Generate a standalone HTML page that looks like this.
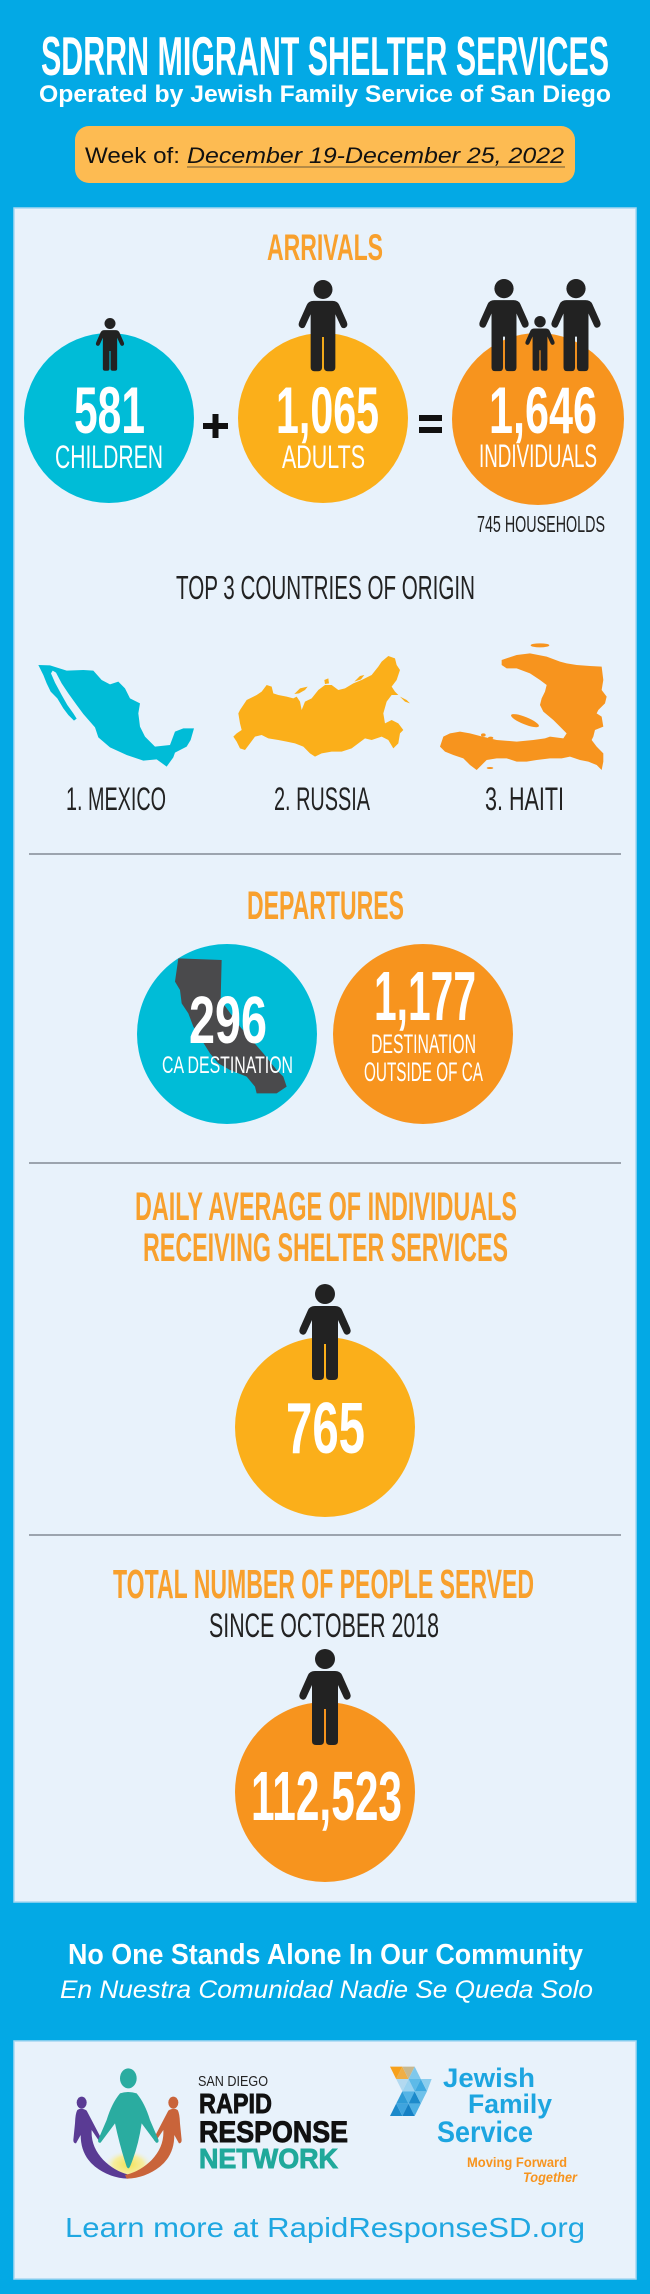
<!DOCTYPE html>
<html>
<head>
<meta charset="utf-8">
<style>
  html,body{margin:0;padding:0;background:#03A9E5;}
  svg{display:block;}
  text{font-family:"Liberation Sans", sans-serif;}
</style>
</head>
<body>
<svg xmlns="http://www.w3.org/2000/svg" width="650" height="2294" viewBox="0 0 650 2294">
  <defs>
    <g id="person">
      <circle cx="0" cy="10" r="10"/>
      <path d="M -10,22 L 10,22 Q 15,22 17,26 L 25,44 Q 27,49 23,50.5 Q 20,51.5 18.5,48 L 13,36 L 13,92 Q 13,96 9,96 L 5,96 Q 1,96 1,92 L 1,60 L -1,60 L -1,92 Q -1,96 -5,96 L -9,96 Q -13,96 -13,92 L -13,36 L -18.5,48 Q -20,51.5 -23,50.5 Q -27,49 -25,44 L -17,26 Q -15,22 -10,22 Z"/>
    </g>
    <radialGradient id="glow" cx="0.5" cy="0.6" r="0.5">
      <stop offset="0" stop-color="#F3E35A"/>
      <stop offset="0.6" stop-color="#F6EDA0"/>
      <stop offset="1" stop-color="#E8F2FB" stop-opacity="0"/>
    </radialGradient>
  </defs>

  <!-- background -->
  <rect x="0" y="0" width="650" height="2294" fill="#03A9E5"/>

  <!-- header -->
  <text x="41" y="75" font-size="55" font-weight="bold" fill="#ffffff" textLength="568" lengthAdjust="spacingAndGlyphs">SDRRN MIGRANT SHELTER SERVICES</text>
  <text x="39" y="102" font-size="24" font-weight="bold" fill="#ffffff" textLength="572" lengthAdjust="spacingAndGlyphs">Operated by Jewish Family Service of San Diego</text>

  <rect x="75" y="126" width="500" height="57" rx="14" fill="#FDBB52"/>
  <text x="85" y="163" font-size="22" fill="#111" textLength="95" lengthAdjust="spacingAndGlyphs">Week of:</text>
  <text x="187" y="163" font-size="22" font-style="italic" fill="#111" textLength="377" lengthAdjust="spacingAndGlyphs">December 19-December 25, 2022</text>
  <line x1="187" y1="167" x2="565" y2="167" stroke="#6b5a3a" stroke-width="1"/>

  <!-- main panel -->
  <rect x="14" y="208" width="622" height="1694" fill="#E8F2FB" stroke="#A8D8F2" stroke-width="1.5"/>

  <!-- ARRIVALS -->
  <text x="267" y="260" font-size="37" font-weight="bold" fill="#F8A02D" textLength="116" lengthAdjust="spacingAndGlyphs">ARRIVALS</text>

  <circle cx="109" cy="418" r="85" fill="#00BCD7"/>
  <circle cx="323" cy="418" r="85" fill="#FBAF1A"/>
  <circle cx="538" cy="419" r="86" fill="#F7941E"/>

  <g fill="#222222">
    <use href="#person" transform="translate(110,318) scale(0.55)"/>
    <use href="#person" transform="translate(323,280) scale(0.95)"/>
    <use href="#person" transform="translate(504,279) scale(0.96)"/>
    <use href="#person" transform="translate(576,279) scale(0.96)"/>
    <use href="#person" transform="translate(540,316) scale(0.57)"/>
  </g>

  <text x="74" y="433" font-size="66" font-weight="bold" fill="#fff" textLength="71" lengthAdjust="spacingAndGlyphs">581</text>
  <text x="276" y="433" font-size="66" font-weight="bold" fill="#fff" textLength="103" lengthAdjust="spacingAndGlyphs">1,065</text>
  <text x="489" y="433" font-size="66" font-weight="bold" fill="#fff" textLength="108" lengthAdjust="spacingAndGlyphs">1,646</text>
  <text x="55" y="468" font-size="32" fill="#fff" textLength="108" lengthAdjust="spacingAndGlyphs">CHILDREN</text>
  <text x="282" y="468" font-size="32" fill="#fff" textLength="83" lengthAdjust="spacingAndGlyphs">ADULTS</text>
  <text x="479" y="467" font-size="32" fill="#fff" textLength="118" lengthAdjust="spacingAndGlyphs">INDIVIDUALS</text>

  <!-- plus / equals -->
  <rect x="203" y="423" width="25" height="6" fill="#111"/>
  <rect x="212.5" y="414" width="6" height="24" fill="#111"/>
  <rect x="419" y="415" width="23" height="6" fill="#111"/>
  <rect x="419" y="427" width="23" height="6" fill="#111"/>

  <text x="477" y="532" font-size="23" fill="#222" textLength="128" lengthAdjust="spacingAndGlyphs">745 HOUSEHOLDS</text>

  <text x="176" y="599" font-size="33" fill="#222" textLength="299" lengthAdjust="spacingAndGlyphs">TOP 3 COUNTRIES OF ORIGIN</text>

  <!-- Mexico -->
  <g transform="translate(30,630) scale(0.3333)" fill="#00BCD7">
    <path d="M 25,105 L 60,106 L 110,122 L 160,120 L 190,122 L 215,150 L 240,163 L 265,155 L 285,175 L 300,205 L 330,220 L 325,250 L 330,290 L 345,320 L 375,350 L 420,345 L 435,305 L 460,295 L 492,295 L 482,330 L 470,350 L 435,368 L 430,382 L 410,410 L 380,388 L 340,392 L 290,375 L 240,352 L 205,322 L 195,292 L 160,252 L 140,225 L 115,190 L 95,160 L 78,128 L 68,122 L 63,130 L 75,158 L 95,195 L 112,225 L 130,250 L 140,266 L 132,272 L 115,255 L 100,235 L 82,205 L 62,185 L 50,160 L 40,135 Z"/>
  </g>

  <!-- Russia -->
  <g transform="translate(225,630) scale(0.3333)" fill="#FBAF1A">
    <path d="M 40,250 L 45,240 L 65,210 L 95,195 L 110,185 L 125,165 L 140,170 L 145,190 L 160,195 L 185,200 L 205,205 L 215,200 L 225,215 L 230,240 L 240,215 L 260,205 L 280,180 L 300,165 L 320,165 L 340,180 L 360,175 L 385,160 L 410,150 L 440,135 L 460,110 L 470,95 L 490,78 L 510,85 L 515,105 L 525,120 L 515,150 L 500,170 L 510,185 L 525,200 L 545,210 L 555,220 L 540,215 L 520,195 L 500,195 L 485,215 L 475,250 L 480,280 L 500,270 L 520,280 L 535,300 L 525,310 L 520,340 L 505,355 L 490,330 L 470,320 L 440,330 L 420,325 L 400,340 L 380,355 L 350,365 L 320,365 L 290,370 L 270,380 L 255,370 L 235,350 L 210,340 L 185,335 L 160,330 L 130,325 L 110,315 L 90,320 L 75,340 L 60,360 L 45,355 L 35,335 L 25,320 L 35,310 L 50,300 L 45,280 Z"/>
    <path d="M 208,192 L 225,175 L 248,170 L 240,180 L 222,190 Z"/>
    <path d="M 298,150 L 310,145 L 312,160 L 300,162 Z"/>
    <path d="M 388,155 L 405,138 L 418,135 L 408,148 Z"/>
  </g>

  <!-- Haiti / Hispaniola -->
  <g transform="translate(430,630) scale(0.3333)" fill="#F7941E">
    <path d="M 215,90 L 260,75 L 300,70 L 350,80 L 390,95 L 410,100 L 440,105 L 480,108 L 515,110 L 520,150 L 515,180 L 530,200 L 525,220 L 505,240 L 500,250 L 515,260 L 520,290 L 495,300 L 490,320 L 485,330 L 500,350 L 520,370 L 520,395 L 515,420 L 500,405 L 475,395 L 450,390 L 420,380 L 395,385 L 360,385 L 320,390 L 290,395 L 260,395 L 230,385 L 200,385 L 170,390 L 155,405 L 140,420 L 120,405 L 100,385 L 70,375 L 45,365 L 30,350 L 40,320 L 60,310 L 90,305 L 120,310 L 150,318 L 200,330 L 260,335 L 310,330 L 345,325 L 360,320 L 400,325 L 410,310 L 390,290 L 370,270 L 340,245 L 330,225 L 335,205 L 345,185 L 350,165 L 330,150 L 300,130 L 260,115 L 230,115 L 215,105 Z"/>
    <ellipse cx="285" cy="272" rx="45" ry="11" transform="rotate(22 285 272)"/>
    <ellipse cx="330" cy="46" rx="28" ry="6"/>
    <ellipse cx="160" cy="315" rx="7" ry="5"/>
    <ellipse cx="182" cy="324" rx="8" ry="4"/>
    <ellipse cx="180" cy="414" rx="10" ry="3"/>
  </g>

  <text x="66" y="810" font-size="32" fill="#222" textLength="100" lengthAdjust="spacingAndGlyphs">1. MEXICO</text>
  <text x="274" y="810" font-size="32" fill="#222" textLength="96" lengthAdjust="spacingAndGlyphs">2. RUSSIA</text>
  <text x="485" y="810" font-size="32" fill="#222" textLength="79" lengthAdjust="spacingAndGlyphs">3. HAITI</text>

  <line x1="29" y1="854" x2="621" y2="854" stroke="#6E7680" stroke-width="1.2"/>

  <!-- DEPARTURES -->
  <text x="247" y="919" font-size="40" font-weight="bold" fill="#F8A02D" textLength="157" lengthAdjust="spacingAndGlyphs">DEPARTURES</text>

  <circle cx="227" cy="1034" r="90" fill="#00BCD7"/>
  <circle cx="423" cy="1034" r="90" fill="#F7941E"/>

  <g transform="translate(130,930) scale(0.3333)" fill="#4A4A4C">
    <path d="M 145,85 L 275,90 L 272,210 L 330,290 L 400,370 L 440,420 L 460,440 L 470,470 L 455,480 L 440,490 L 380,490 L 375,470 L 350,440 L 300,420 L 265,400 L 240,370 L 215,330 L 190,290 L 175,250 L 155,220 L 150,180 L 135,155 L 140,120 Z"/>
  </g>

  <text x="189" y="1043" font-size="67" font-weight="bold" fill="#fff" textLength="78" lengthAdjust="spacingAndGlyphs">296</text>
  <text x="162" y="1073" font-size="24" fill="#fff" textLength="131" lengthAdjust="spacingAndGlyphs">CA DESTINATION</text>
  <text x="374" y="1020" font-size="70" font-weight="bold" fill="#fff" textLength="102" lengthAdjust="spacingAndGlyphs">1,177</text>
  <text x="371" y="1053" font-size="27" fill="#fff" textLength="105" lengthAdjust="spacingAndGlyphs">DESTINATION</text>
  <text x="364" y="1081" font-size="27" fill="#fff" textLength="119" lengthAdjust="spacingAndGlyphs">OUTSIDE OF CA</text>

  <line x1="29" y1="1163" x2="621" y2="1163" stroke="#6E7680" stroke-width="1.2"/>

  <!-- DAILY AVERAGE -->
  <text x="135" y="1220" font-size="40" font-weight="bold" fill="#F8A02D" textLength="382" lengthAdjust="spacingAndGlyphs">DAILY AVERAGE OF INDIVIDUALS</text>
  <text x="143" y="1261" font-size="40" font-weight="bold" fill="#F8A02D" textLength="365" lengthAdjust="spacingAndGlyphs">RECEIVING SHELTER SERVICES</text>

  <circle cx="325" cy="1427" r="90" fill="#FBAF1A"/>
  <use href="#person" fill="#222222" transform="translate(325,1284)"/>
  <text x="286" y="1453" font-size="72" font-weight="bold" fill="#fff" textLength="79" lengthAdjust="spacingAndGlyphs">765</text>

  <line x1="29" y1="1535" x2="621" y2="1535" stroke="#6E7680" stroke-width="1.2"/>

  <!-- TOTAL -->
  <text x="113" y="1598" font-size="41" font-weight="bold" fill="#F8A02D" textLength="421" lengthAdjust="spacingAndGlyphs">TOTAL NUMBER OF PEOPLE SERVED</text>
  <text x="209" y="1637" font-size="34" fill="#222" textLength="230" lengthAdjust="spacingAndGlyphs">SINCE OCTOBER 2018</text>

  <circle cx="325" cy="1792" r="90" fill="#F7941E"/>
  <use href="#person" fill="#222222" transform="translate(325,1649)"/>
  <text x="251" y="1820" font-size="70" font-weight="bold" fill="#fff" textLength="151" lengthAdjust="spacingAndGlyphs">112,523</text>

  <!-- tagline -->
  <text x="68" y="1964" font-size="29" font-weight="bold" fill="#fff" textLength="515" lengthAdjust="spacingAndGlyphs">No One Stands Alone In Our Community</text>
  <text x="60" y="1998" font-size="25" font-style="italic" fill="#fff" textLength="533" lengthAdjust="spacingAndGlyphs">En Nuestra Comunidad Nadie Se Queda Solo</text>

  <!-- lower panel -->
  <rect x="14" y="2041" width="622" height="238" fill="#E8F2FB" stroke="#A8D8F2" stroke-width="1.5"/>

  <!-- RRN logo -->
  <g transform="translate(60,2060) scale(0.3333)">
    <ellipse cx="205" cy="305" rx="75" ry="45" fill="url(#glow)"/>
    <path fill="#5A3B94" d="M 52,150 Q 65,142 80,152 L 122,232 Q 126,242 118,244 L 95,210 Q 92,260 130,300 Q 165,335 210,345 L 205,356 Q 150,355 105,320 Q 62,285 62,225 L 48,250 Q 40,250 40,240 L 45,190 Q 46,160 52,150 Z"/>
    <ellipse cx="65" cy="128" rx="15" ry="18" fill="#5A3B94"/>
    <g transform="translate(405,0) scale(-1,1)">
      <path fill="#C9643A" d="M 52,150 Q 65,142 80,152 L 122,232 Q 126,242 118,244 L 95,210 Q 92,260 130,300 Q 165,335 210,345 L 205,356 Q 150,355 105,320 Q 62,285 62,225 L 48,250 Q 40,250 40,240 L 45,190 Q 46,160 52,150 Z"/>
      <ellipse cx="65" cy="128" rx="15" ry="18" fill="#C9643A"/>
    </g>
    <ellipse cx="205" cy="55" rx="25" ry="30" fill="#2AACA0"/>
    <path fill="#2AACA0" d="M 180,100 Q 205,92 230,100 Q 255,130 270,180 L 295,238 Q 298,250 288,248 L 245,190 Q 235,260 210,320 Q 205,330 200,320 Q 180,260 165,190 L 122,248 Q 112,250 115,238 L 140,180 Q 155,130 180,100 Z"/>
  </g>
  <text x="198" y="2086" font-size="15" fill="#222" textLength="70" lengthAdjust="spacingAndGlyphs">SAN DIEGO</text>
  <text x="199" y="2113" font-size="28" font-weight="bold" fill="#111" stroke="#111" stroke-width="0.9" textLength="73" lengthAdjust="spacingAndGlyphs">RAPID</text>
  <text x="199" y="2142" font-size="30" font-weight="bold" fill="#111" stroke="#111" stroke-width="0.9" textLength="149" lengthAdjust="spacingAndGlyphs">RESPONSE</text>
  <text x="199" y="2168" font-size="28" font-weight="bold" fill="#20A99B" stroke="#20A99B" stroke-width="0.9" textLength="139" lengthAdjust="spacingAndGlyphs">NETWORK</text>

  <!-- JFS logo mark -->
  <g transform="translate(380,2060) scale(0.3333)">
    <polygon points="30,20 67,20 48.5,57" fill="#F7A11C"/>
    <polygon points="48.5,57 67,20 85.5,57" fill="#EFAE45"/>
    <polygon points="67,20 104,20 85.5,57" fill="#C8B88E"/>
    <polygon points="85.5,57 104,20 122.5,57" fill="#7FC8EC"/>
    <polygon points="48.5,57 85.5,57 67,94" fill="#B2D9F0"/>
    <polygon points="67,94 85.5,57 104,94" fill="#9AD2F0"/>
    <polygon points="85.5,57 122.5,57 104,94" fill="#5DBAE8"/>
    <polygon points="104,94 122.5,57 141,94" fill="#3FA9E0"/>
    <polygon points="122.5,57 155,57 141,94" fill="#8BCDEE"/>
    <polygon points="48.5,131 67,94 85.5,131" fill="#2E9BD6"/>
    <polygon points="67,94 104,94 85.5,131" fill="#55B4E6"/>
    <polygon points="85.5,131 104,94 122.5,131" fill="#1C8ACB"/>
    <polygon points="104,94 141,94 122.5,131" fill="#6EC1EA"/>
    <polygon points="30,168 48.5,131 67,168" fill="#1C8ACB"/>
    <polygon points="48.5,131 85.5,131 67,168" fill="#3FA4DE"/>
    <polygon points="67,168 85.5,131 104,168" fill="#1580C4"/>
    <polygon points="85.5,131 122.5,131 104,168" fill="#4DB0E4"/>
  </g>
  <text x="443" y="2087" font-size="27" font-weight="bold" fill="#1DA5E0" textLength="92" lengthAdjust="spacingAndGlyphs">Jewish</text>
  <text x="468" y="2113" font-size="27" font-weight="bold" fill="#1DA5E0" textLength="84" lengthAdjust="spacingAndGlyphs">Family</text>
  <text x="437" y="2142" font-size="30" font-weight="bold" fill="#1DA5E0" textLength="96" lengthAdjust="spacingAndGlyphs">Service</text>
  <text x="467" y="2167" font-size="14" font-weight="bold" fill="#F7941E" textLength="100" lengthAdjust="spacingAndGlyphs">Moving Forward</text>
  <text x="523" y="2182" font-size="14" font-weight="bold" font-style="italic" fill="#F7941E" textLength="54" lengthAdjust="spacingAndGlyphs">Together</text>

  <text x="65" y="2237" font-size="28" fill="#1FA7E1" textLength="520" lengthAdjust="spacingAndGlyphs">Learn more at RapidResponseSD.org</text>
</svg>
</body>
</html>
